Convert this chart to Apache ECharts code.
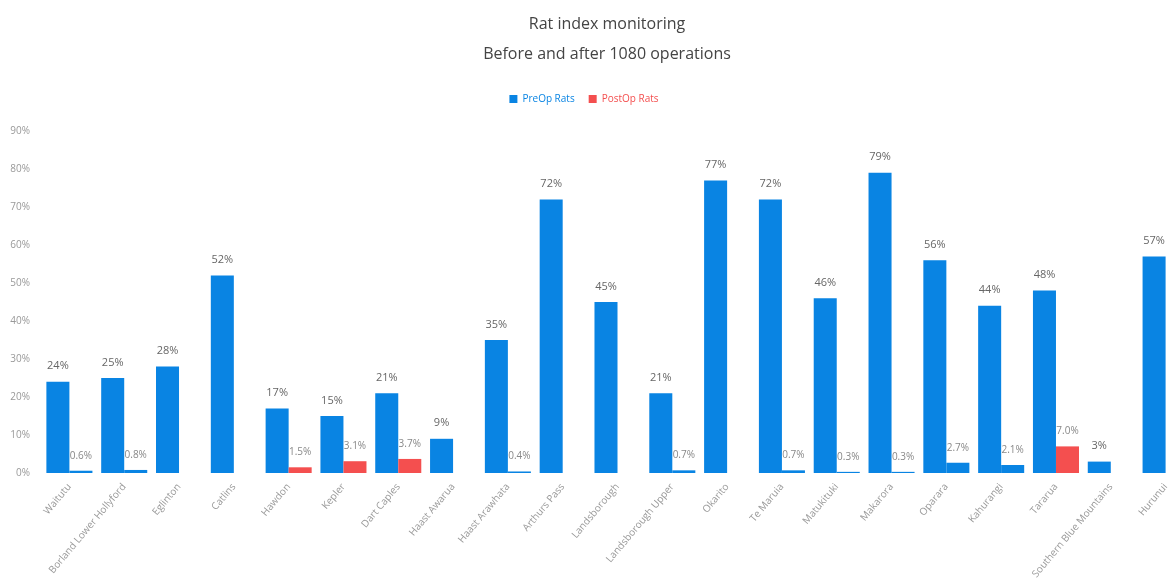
<!DOCTYPE html>
<html>
<head>
<meta charset="utf-8">
<script src="https://cdn.jsdelivr.net/npm/echarts@6/dist/echarts.min.js"></script>
<style>html,body{margin:0;padding:0;background:#fff}#c{width:1168px;height:578px}</style>
</head>
<body>
<div id="c"></div>
<script>
const categories = ["Waitutu","Borland Lower Hollyford","Eglinton","Catlins","Hawdon","Kepler","Dart Caples","Haast Awarua","Haast Arawhata","Arthurs Pass","Landsborough","Landsborough Upper","Okarito","Te Maruia","Matukituki","Makarora","Oparara","Kahurangi","Tararua","Southern Blue Mountains","Hurunui"];
const preOpRats = [24,25,28,52,17,15,21,9,35,72,45,21,77,72,46,79,56,44,48,3,57];
const postOpRats = [0.6,0.8,null,null,1.5,3.1,3.7,null,0.4,null,null,0.7,null,0.7,0.3,0.3,2.7,2.1,7.0,null,null];
const seriesNames = ["PreOp Rats","PostOp Rats"];
const redPostIdx = [4,5,6,18];

const BLUE = '#0984e3', RED = '#f44f4f';
const chart = echarts.init(document.getElementById('c'));
chart.setOption({
  animation:false,
  title:{
    text:'Rat index monitoring\nBefore and after 1080 operations',
    left:602, top:4, textAlign:'center',
    textStyle:{fontFamily:'Open Sans',fontWeight:'normal',fontSize:16,color:'#444',lineHeight:30}
  },
  legend:{
    top:89, left:'center',
    itemWidth:8,itemHeight:8,itemGap:14,icon:'rect',
    textStyle:{fontFamily:'Open Sans',fontSize:10},
    data:[
      {name:seriesNames[0],itemStyle:{color:BLUE},textStyle:{color:BLUE}},
      {name:seriesNames[1],itemStyle:{color:RED},textStyle:{color:RED}}
    ]
  },
  grid:{left:42, top:131, width:1151, height:342, outerBoundsMode:'none', containLabel:false},
  xAxis:{
    type:'category', data:categories,
    axisLine:{show:false}, axisTick:{show:false},
    axisLabel:{interval:0, rotate:50, fontFamily:'Open Sans', fontSize:10, color:'#999', margin:12}
  },
  yAxis:{
    type:'value', min:0, max:90, interval:10,
    splitLine:{show:false}, axisLine:{show:false}, axisTick:{show:false},
    axisLabel:{formatter:'{value}%', fontFamily:'Open Sans', fontSize:10, color:'#999', margin:12}
  },
  series:[
    {name:seriesNames[0], type:'bar', data:preOpRats, barGap:'0%', barCategoryGap:'16%',
     itemStyle:{color:BLUE},
     label:{show:true, position:'top', distance:10, formatter:p=>p.value+'%', fontFamily:'Open Sans', fontSize:11, color:'#666'}},
    {name:seriesNames[1], type:'bar', data:postOpRats,
     itemStyle:{color:p=>redPostIdx.includes(p.dataIndex)?RED:BLUE},
     label:{show:true, position:'top', distance:10, formatter:p=>p.value==null?'':p.value.toFixed(1)+'%', fontFamily:'Open Sans', fontSize:10, color:'#888'}}
  ]
});
</script>
</body>
</html>
